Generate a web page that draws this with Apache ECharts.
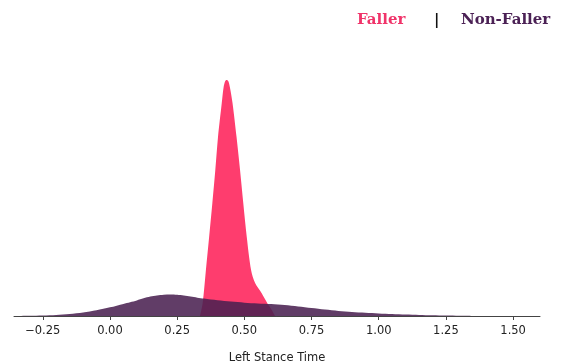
<!DOCTYPE html>
<html><head><meta charset="utf-8">
<script src="https://cdn.jsdelivr.net/npm/echarts@6/dist/echarts.min.js"></script>
<style>html,body{margin:0;padding:0;background:#fff}#c{width:561px;height:363px}</style>
</head><body><div id="c"></div>
<script>
const fallerX = [0.335,0.345,0.357,0.369,0.381,0.392,0.402,0.416,0.423,0.429,0.434,0.440,0.446,0.456,0.471,0.484,0.496,0.509,0.525,0.540,0.564,0.585,0.602,0.614];
const fallerY = [0,0.95,3.36,5.77,8.25,10.66,13.07,15.55,16.72,17.15,17.23,17.15,16.72,15.55,13.07,10.66,8.25,5.77,3.36,2.41,1.68,0.95,0.44,0];
const nonFallerX = [-0.35,-0.3,-0.25,-0.2,-0.15,-0.1,-0.05,0,0.05,0.075,0.1,0.125,0.15,0.175,0.2,0.225,0.25,0.275,0.3,0.325,0.35,0.4,0.45,0.5,0.55,0.6,0.65,0.7,0.75,0.8,0.85,0.9,0.95,1.0,1.05,1.1,1.15,1.2,1.25,1.3,1.35];
const nonFallerY = [0,0.015,0.036,0.073,0.139,0.250,0.415,0.635,0.885,1.010,1.140,1.290,1.420,1.500,1.550,1.565,1.545,1.490,1.415,1.340,1.275,1.150,1.050,0.975,0.920,0.869,0.796,0.693,0.577,0.467,0.372,0.292,0.234,0.182,0.139,0.102,0.073,0.047,0.029,0.015,0.004];
const tickValues = [-0.25,0,0.25,0.5,0.75,1.0,1.25,1.5];
const xLabel = 'Left Stance Time';
const legendNames = ['Faller','Non-Faller'];

const chart = echarts.init(document.getElementById('c'));
const pair = (xs, ys) => xs.map((x, i) => [x, ys[i]]);
chart.setOption({
  animation: false,
  grid: {left: 14, right: 21, top: 40, bottom: 47, containLabel: false, outerBoundsMode: 'none'},
  xAxis: {
    type: 'value', min: -0.357, max: 1.6,
    name: xLabel, nameLocation: 'middle', nameGap: 36,
    nameTextStyle: {fontFamily: 'DejaVu Sans', fontSize: 11.5, color: '#222'},
    axisLine: {show: true, lineStyle: {color: '#444', width: 1}},
    axisTick: {show: true, length: 4, lineStyle: {color: '#444'}, customValues: tickValues},
    axisLabel: {customValues: tickValues, fontFamily: 'DejaVu Sans', fontSize: 11.5, color: '#222', margin: 9,
      formatter: v => v.toFixed(2).replace('-', '\u2212')},
    splitLine: {show: false}
  },
  yAxis: {type: 'value', min: 0, max: 20.15, show: false, splitLine: {show: false}},
  series: [
    {type: 'line', data: pair(fallerX, fallerY), smooth: 0.3, showSymbol: false,
     lineStyle: {width: 0}, areaStyle: {color: '#FE3D6E', opacity: 1}, z: 2},
    {type: 'line', data: pair(nonFallerX, nonFallerY), smooth: 0.3, showSymbol: false,
     lineStyle: {width: 0}, areaStyle: {color: '#4A2050', opacity: 0.87}, z: 3}
  ],
  graphic: [
    {type: 'text', left: 357, top: 13, style: {text: legendNames[0], fill: '#F0346A', font: 'bold 15px "DejaVu Serif"'}},
    {type: 'text', left: 434, top: 13, style: {text: '|', fill: '#111', font: 'bold 15px "DejaVu Serif"'}},
    {type: 'text', left: 461, top: 13, style: {text: legendNames[1], fill: '#4B2155', font: 'bold 15px "DejaVu Serif"'}}
  ]
});
</script></body></html>
